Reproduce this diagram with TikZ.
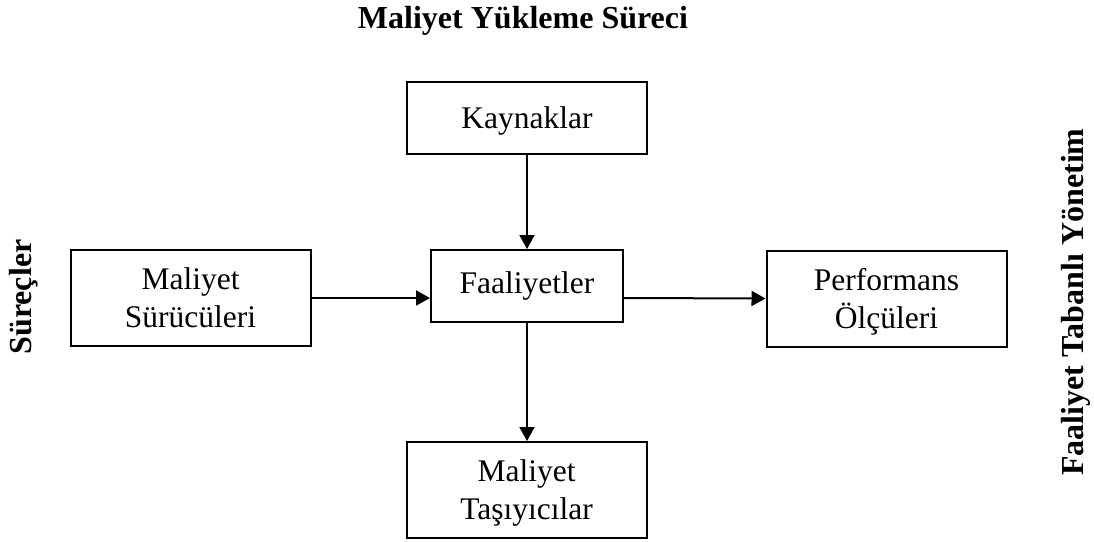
\documentclass[tikz,border=0pt]{standalone}
\usepackage{fontspec}
\setmainfont{Liberation Serif}
\usetikzlibrary{arrows.meta}
\begin{document}
\begin{tikzpicture}[x=1pt,y=-1pt,
  font=\fontsize{31.5}{38}\selectfont,
  box/.style={draw, line width=2pt, inner sep=0pt, align=center,
              minimum width=240pt, text depth=0pt},
  boxone/.style={box, minimum height=72pt},
  boxtwo/.style={box, minimum height=96pt},
  flow/.style={draw, line width=2pt, -{Triangle[length=14pt,width=15pt]}},
  heading/.style={font=\fontsize{32}{38}\selectfont\bfseries, inner sep=0pt, anchor=base}]
  \useasboundingbox (0,0) rectangle (1094,541);

  % titles
  \node[heading] (title) at (523,28) {Maliyet Yükleme Süreci};
  \node[heading, rotate=90] (left) at (31,297) {Süreçler};
  \node[heading, rotate=90] (right) at (1083,302) {Faaliyet Tabanlı Yönetim};

  % boxes
  \node[boxone] (kay) at (527,118) {Kaynaklar};
  \node[boxone, minimum width=192pt, text depth=6.8pt] (faa) at (527,286) {Faaliyetler};
  \node[boxtwo] (msd) at (190.5,298) {Maliyet\\Sürücüleri};
  \node[boxtwo] (per) at (886.5,298.5) {Performans\\Ölçüleri};
  \node[boxtwo] (tas) at (526.5,490) {Maliyet\\Taşıyıcılar};

  % connectors
  \draw[flow] (kay.south) -- (kay.south |- faa.north);
  \draw[flow] (faa.south) -- (faa.south |- tas.north);
  \draw[flow] (msd.east) -- (msd.east -| faa.west);
  \draw[flow] (msd.east -| faa.east) -- (per.west);
\end{tikzpicture}
\end{document}
